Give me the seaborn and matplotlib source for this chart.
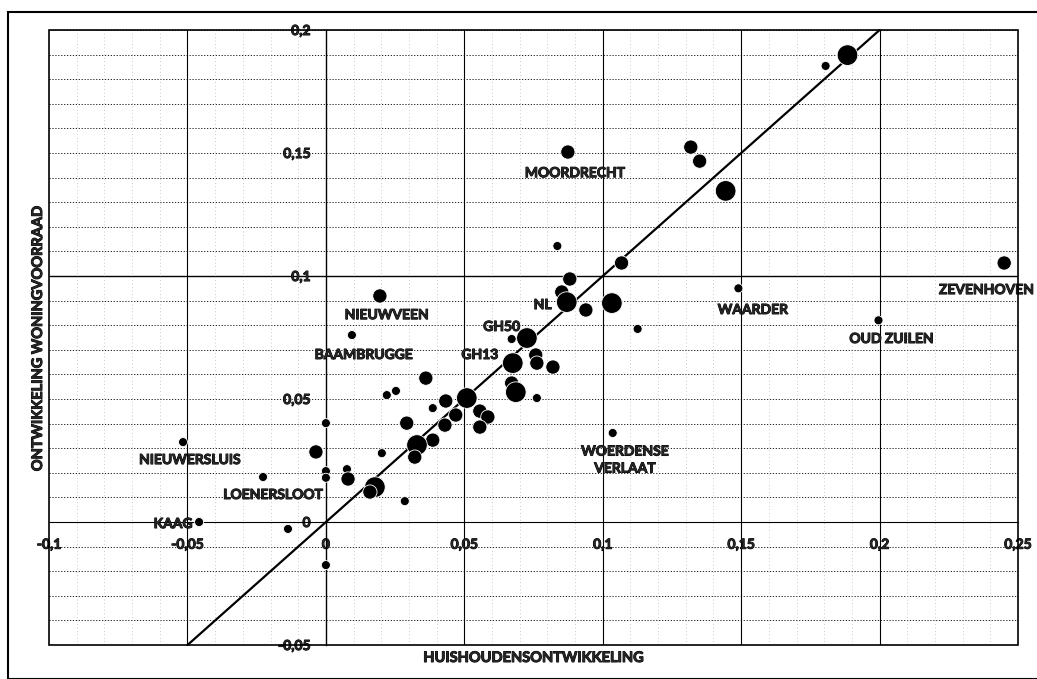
"""
Spreidingsdiagram: huishoudensontwikkeling tegen ontwikkeling woningvoorraad
"""

import pandas as pd
import seaborn as sns
import numpy as np
import matplotlib.pyplot as plt
import matplotlib.patheffects as pe
from matplotlib.patches import Rectangle

# Data
huishoudens = [0.1884, 0.1805, 0.0874, 0.1318, 0.1350, 0.1444, 0.0836, 0.1068, 0.2450, 0.1490,
               0.1996, 0.0881, 0.0852, 0.0870, 0.0939, 0.1033, 0.1126, 0.0726, 0.0671, 0.0758,
               0.0762, 0.0820, 0.0675, 0.0671, 0.0686, 0.0762, 0.1036, 0.0361, 0.0220, 0.0253,
               0.0509, 0.0433, 0.0386, 0.0469, 0.0556, 0.0585, 0.0556, 0.0430, 0.0292, 0.0000,
               0.0386, 0.0329, 0.0321, -0.0036, 0.0202, 0.0000, 0.0000, 0.0076, 0.0080, 0.0177,
               0.0159, 0.0285, -0.0516, -0.0227, -0.0458, -0.0137, 0.0000, 0.0195, 0.0094]
woningvoorraad = [0.1898, 0.1854, 0.1504, 0.1524, 0.1467, 0.1346, 0.1122, 0.1053, 0.1053, 0.0950,
                  0.0820, 0.0988, 0.0935, 0.0894, 0.0862, 0.0890, 0.0785, 0.0748, 0.0744, 0.0679,
                  0.0646, 0.0630, 0.0646, 0.0565, 0.0528, 0.0504, 0.0362, 0.0585, 0.0516, 0.0533,
                  0.0504, 0.0492, 0.0463, 0.0435, 0.0451, 0.0427, 0.0386, 0.0394, 0.0402, 0.0402,
                  0.0333, 0.0313, 0.0264, 0.0285, 0.0280, 0.0207, 0.0180, 0.0215, 0.0175, 0.0142,
                  0.0122, 0.0085, 0.0325, 0.0183, 0.0000, -0.0028, -0.0175, 0.0919, 0.0760]
grootte = [3, 1, 2, 2, 2, 3, 1, 2, 2, 1,
           1, 2, 2, 3, 2, 3, 1, 3, 1, 2,
           2, 2, 3, 2, 3, 1, 1, 2, 1, 1,
           3, 2, 1, 2, 2, 2, 2, 2, 2, 1,
           2, 3, 2, 2, 1, 1, 1, 1, 2, 3,
           2, 1, 1, 1, 1, 1, 1, 2, 1]

# Labels en hun posities
namen = ["MOORDRECHT", "NIEUWVEEN", "BAAMBRUGGE", "GH50", "GH13", "NL", "WAARDER",
         "ZEVENHOVEN", "OUD ZUILEN", "WOERDENSE\nVERLAAT", "NIEUWERSLUIS", "LOENERSLOOT", "KAAG"]
naam_x = [0.0899, 0.0220, 0.0137, 0.0635, 0.0556, 0.0783, 0.1542,
          0.2386, 0.2043, 0.1080, -0.0491, -0.0191, -0.0552]
naam_y = [0.1418, 0.0841, 0.0679, 0.0793, 0.0679, 0.0882, 0.0862,
          0.0943, 0.0744, 0.0252, 0.0252, 0.0110, -0.0008]

lijn = [-0.05, 0.2]

x_ticks = [-0.1, -0.05, 0, 0.05, 0.1, 0.15, 0.2, 0.25]
x_labels = ["-0,1", "-0,05", "0", "0,05", "0,1", "0,15", "0,2", "0,25"]
y_ticks = [-0.05, 0, 0.05, 0.1, 0.15, 0.2]
y_labels = ["-0,05", "0", "0,05", "0,1", "0,15", "0,2"]

df = pd.DataFrame({"x": huishoudens, "y": woningvoorraad, "grootte": grootte})

sns.set_style("white")
plt.rcParams["font.family"] = ["Lato", "DejaVu Sans"]
dik = [pe.withStroke(linewidth=0.7, foreground="black")]

fig = plt.figure(figsize=(10.37, 6.79), dpi=100)
ax = fig.add_axes([0.0473, 0.05, 0.9344, 0.9058])

ax.set_xlim(-0.1, 0.25)
ax.set_ylim(-0.05, 0.2)

# Rasterlijnen
for v in np.arange(-0.05, 0.2001, 0.01):
    ax.axhline(v, color="black", lw=0.6, ls=(0, (1.5, 2)), zorder=0)
ax.axhline(0.1, color="black", lw=1.0, zorder=0)
for v in np.arange(-0.09, 0.2501, 0.01):
    ax.axvline(v, color="#999999", lw=0.5, ls=(0, (1, 4)), zorder=0)
for v in [-0.05, 0.05, 0.1, 0.15, 0.2]:
    ax.axvline(v, color="black", lw=0.8, zorder=0)

# Diagonaal y = x
ax.plot(lijn, lijn, color="black", lw=1.6, zorder=1, clip_on=False)

sns.scatterplot(data=df, x="x", y="y", size="grootte", sizes={1: 42, 2: 105, 3: 220},
                color="black", edgecolor="white", linewidth=0.6, legend=False, ax=ax, zorder=3)

for naam, tx, ty in zip(namen, naam_x, naam_y):
    ax.text(tx, ty, naam, ha="center", va="center", fontsize=10, fontweight="bold",
            linespacing=1.5, zorder=4, path_effects=dik)

# Assen door de oorsprong
ax.spines["left"].set_position(("data", 0))
ax.spines["bottom"].set_position(("data", 0))
ax.spines["left"].set_color("black")
ax.spines["bottom"].set_color("black")
ax.spines["bottom"].set_linewidth(0.8)
ax.spines["left"].set_linewidth(1.0)
ax.spines["top"].set_visible(False)
ax.spines["right"].set_visible(False)
ax.add_patch(Rectangle((0, 0), 1, 1, transform=ax.transAxes, fill=False,
                       edgecolor="black", lw=1.2, clip_on=False, zorder=5))

ax.set_xticks(x_ticks)
ax.set_xticklabels(x_labels, fontsize=10, fontweight="bold", path_effects=dik)
ax.set_yticks(y_ticks)
ax.set_yticklabels(y_labels, fontsize=10, fontweight="bold", path_effects=dik)
ax.tick_params(axis="x", length=0, pad=12)
ax.tick_params(axis="y", length=0, pad=11)
ax.set_xlabel("")
ax.set_ylabel("")

fig.text(38 / 1037, 1 - 339 / 679, "ONTWIKKELING WONINGVOORRAAD", rotation=90,
         ha="center", va="center", fontsize=10.5, fontweight="bold", path_effects=dik)
fig.text(533 / 1037, 1 - 658 / 679, "HUISHOUDENSONTWIKKELING",
         ha="center", va="center", fontsize=10.5, fontweight="bold", path_effects=dik)

# Kader om de grafiek
fig.patches.append(Rectangle((8 / 1037, 0), 1.0, 1 - 12 / 679, transform=fig.transFigure,
                             fill=False, edgecolor="black", lw=1.5))

fig.savefig("out.png", dpi=100)
